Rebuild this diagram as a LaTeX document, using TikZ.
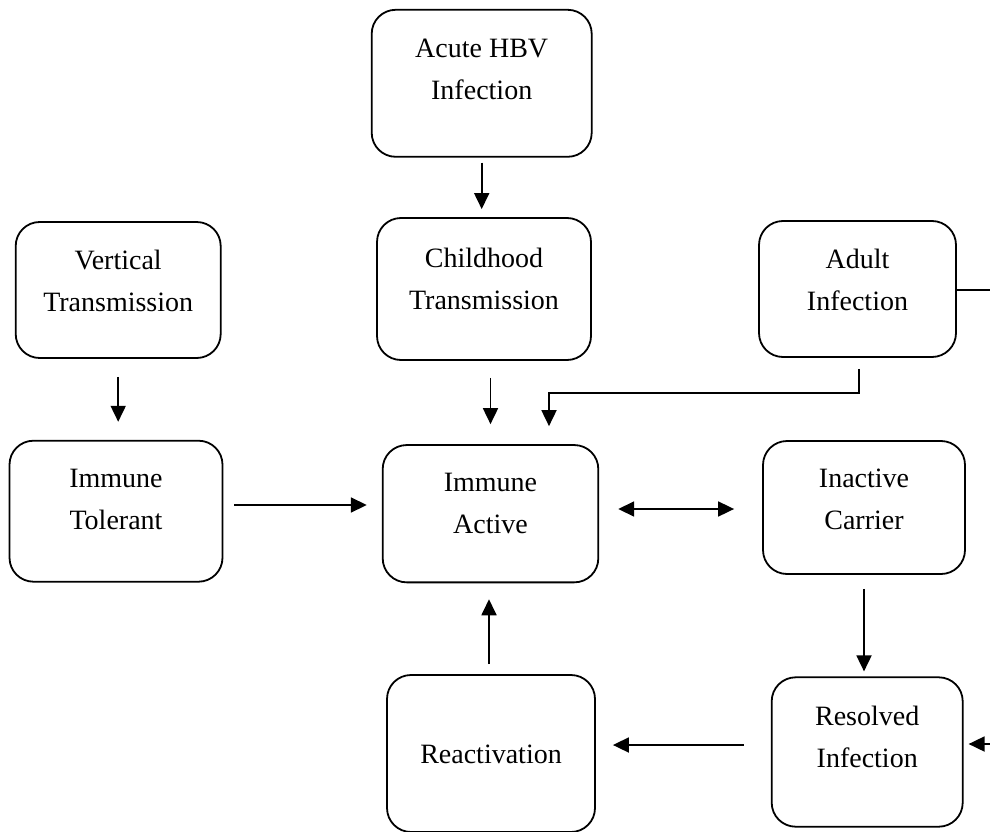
\documentclass[tikz,border=0pt]{standalone}
\usepackage{fontspec}
\setmainfont{Liberation Serif}
\usetikzlibrary{arrows.meta}
\begin{document}
\begin{tikzpicture}[x=1pt,y=-1pt,
  box/.style={draw, line width=1.8pt, rounded corners=24pt, inner sep=0pt},
  txt/.style={anchor=north, align=center, inner sep=0pt, font=\fontsize{28}{42}\selectfont},
  arr/.style={line width=1.8pt, -{Triangle[length=16pt,width=15pt]}},
  darr/.style={line width=1.8pt, {Triangle[length=16pt,width=15pt]}-{Triangle[length=16pt,width=15pt]}},
  ln/.style={line width=1.8pt}]
\useasboundingbox (0,0) rectangle (990,832);
% boxes
\node[box, minimum width=220pt, minimum height=147pt] (A) at (481.7,83.3) {};
\node[box, minimum width=205pt, minimum height=136pt] (V) at (118.2,290) {};
\node[box, minimum width=214pt, minimum height=142pt] (C) at (484,289) {};
\node[box, minimum width=197pt, minimum height=136pt] (D) at (857.5,289) {};
\node[box, minimum width=213pt, minimum height=141pt] (T) at (116,511.2) {};
\node[box, minimum width=215.6pt, minimum height=137.3pt] (I) at (490.5,513.7) {};
\node[box, minimum width=202pt, minimum height=133pt] (N) at (864,507.5) {};
\node[box, minimum width=208pt, minimum height=157pt] (R) at (491,753.5) {};
\node[box, minimum width=191pt, minimum height=149.4pt] (S) at (867.2,752) {};
% texts
\node[txt] (At) at ([yshift=-18.6pt]A.north) {\strut Acute HBV\\Infection};
\node[txt] (Vt) at ([yshift=-18.6pt]V.north) {\strut Vertical\\Transmission};
\node[txt] (Ct) at ([yshift=-20.6pt]C.north) {\strut Childhood\\Transmission};
\node[txt] (Dt) at ([yshift=-18.6pt]D.north) {\strut Adult\\Infection};
\node[txt] (Tt) at ([yshift=-17.9pt]T.north) {\strut Immune\\Tolerant};
\node[txt] (It) at ([yshift=-17.9pt]I.north) {\strut Immune\\Active};
\node[txt] (Nt) at ([yshift=-17.6pt]N.north) {\strut Inactive\\Carrier};
\node[txt] (Rt) at ([yshift=-59.6pt]R.north) {\strut Reactivation};
\node[txt] (St) at ([yshift=-19.3pt]S.north) {\strut Resolved\\Infection};
% helper coordinates
\coordinate (bend) at (549,393);
\coordinate (yTI) at (0,505);
\coordinate (yIN) at (0,509);
\coordinate (ySR) at (0,745);
\coordinate (offR) at (990,290);
\coordinate (offS) at (990,744);
% connectors
\draw[arr, shorten <=5pt, shorten >=8pt] (A.south) -- (A.south |- C.north);
\draw[arr, shorten <=18pt, shorten >=18pt] (V.south) -- (V.south |- T.north);
\draw[arr, shorten <=17pt, shorten >=20pt] (I.north |- C.south) -- (I.north);
\draw[arr, shorten <=11pt, shorten >=18pt] ([xshift=1.5pt]D.south) |- (bend) -- (bend |- I.north);
\draw[arr, shorten <=11pt, shorten >=15pt] (T.east |- yTI) -- (I.west |- yTI);
\draw[darr, shorten <=19pt, shorten >=28pt] (I.east |- yIN) -- (N.west |- yIN);
\draw[arr, shorten <=14pt, shorten >=5pt] (N.south) -- (N.south |- S.north);
\draw[arr, shorten <=27pt, shorten >=17pt] (S.west |- ySR) -- (R.east |- ySR);
\draw[arr, shorten <=10pt, shorten >=16pt] ([xshift=-2pt]R.north) -- ([xshift=-2pt]R.north |- I.south);
\draw[ln] (D.east |- offR) -- (offR);
\draw[arr, shorten >=5pt] (offS) -- (offS -| S.east);
\end{tikzpicture}
\end{document}
